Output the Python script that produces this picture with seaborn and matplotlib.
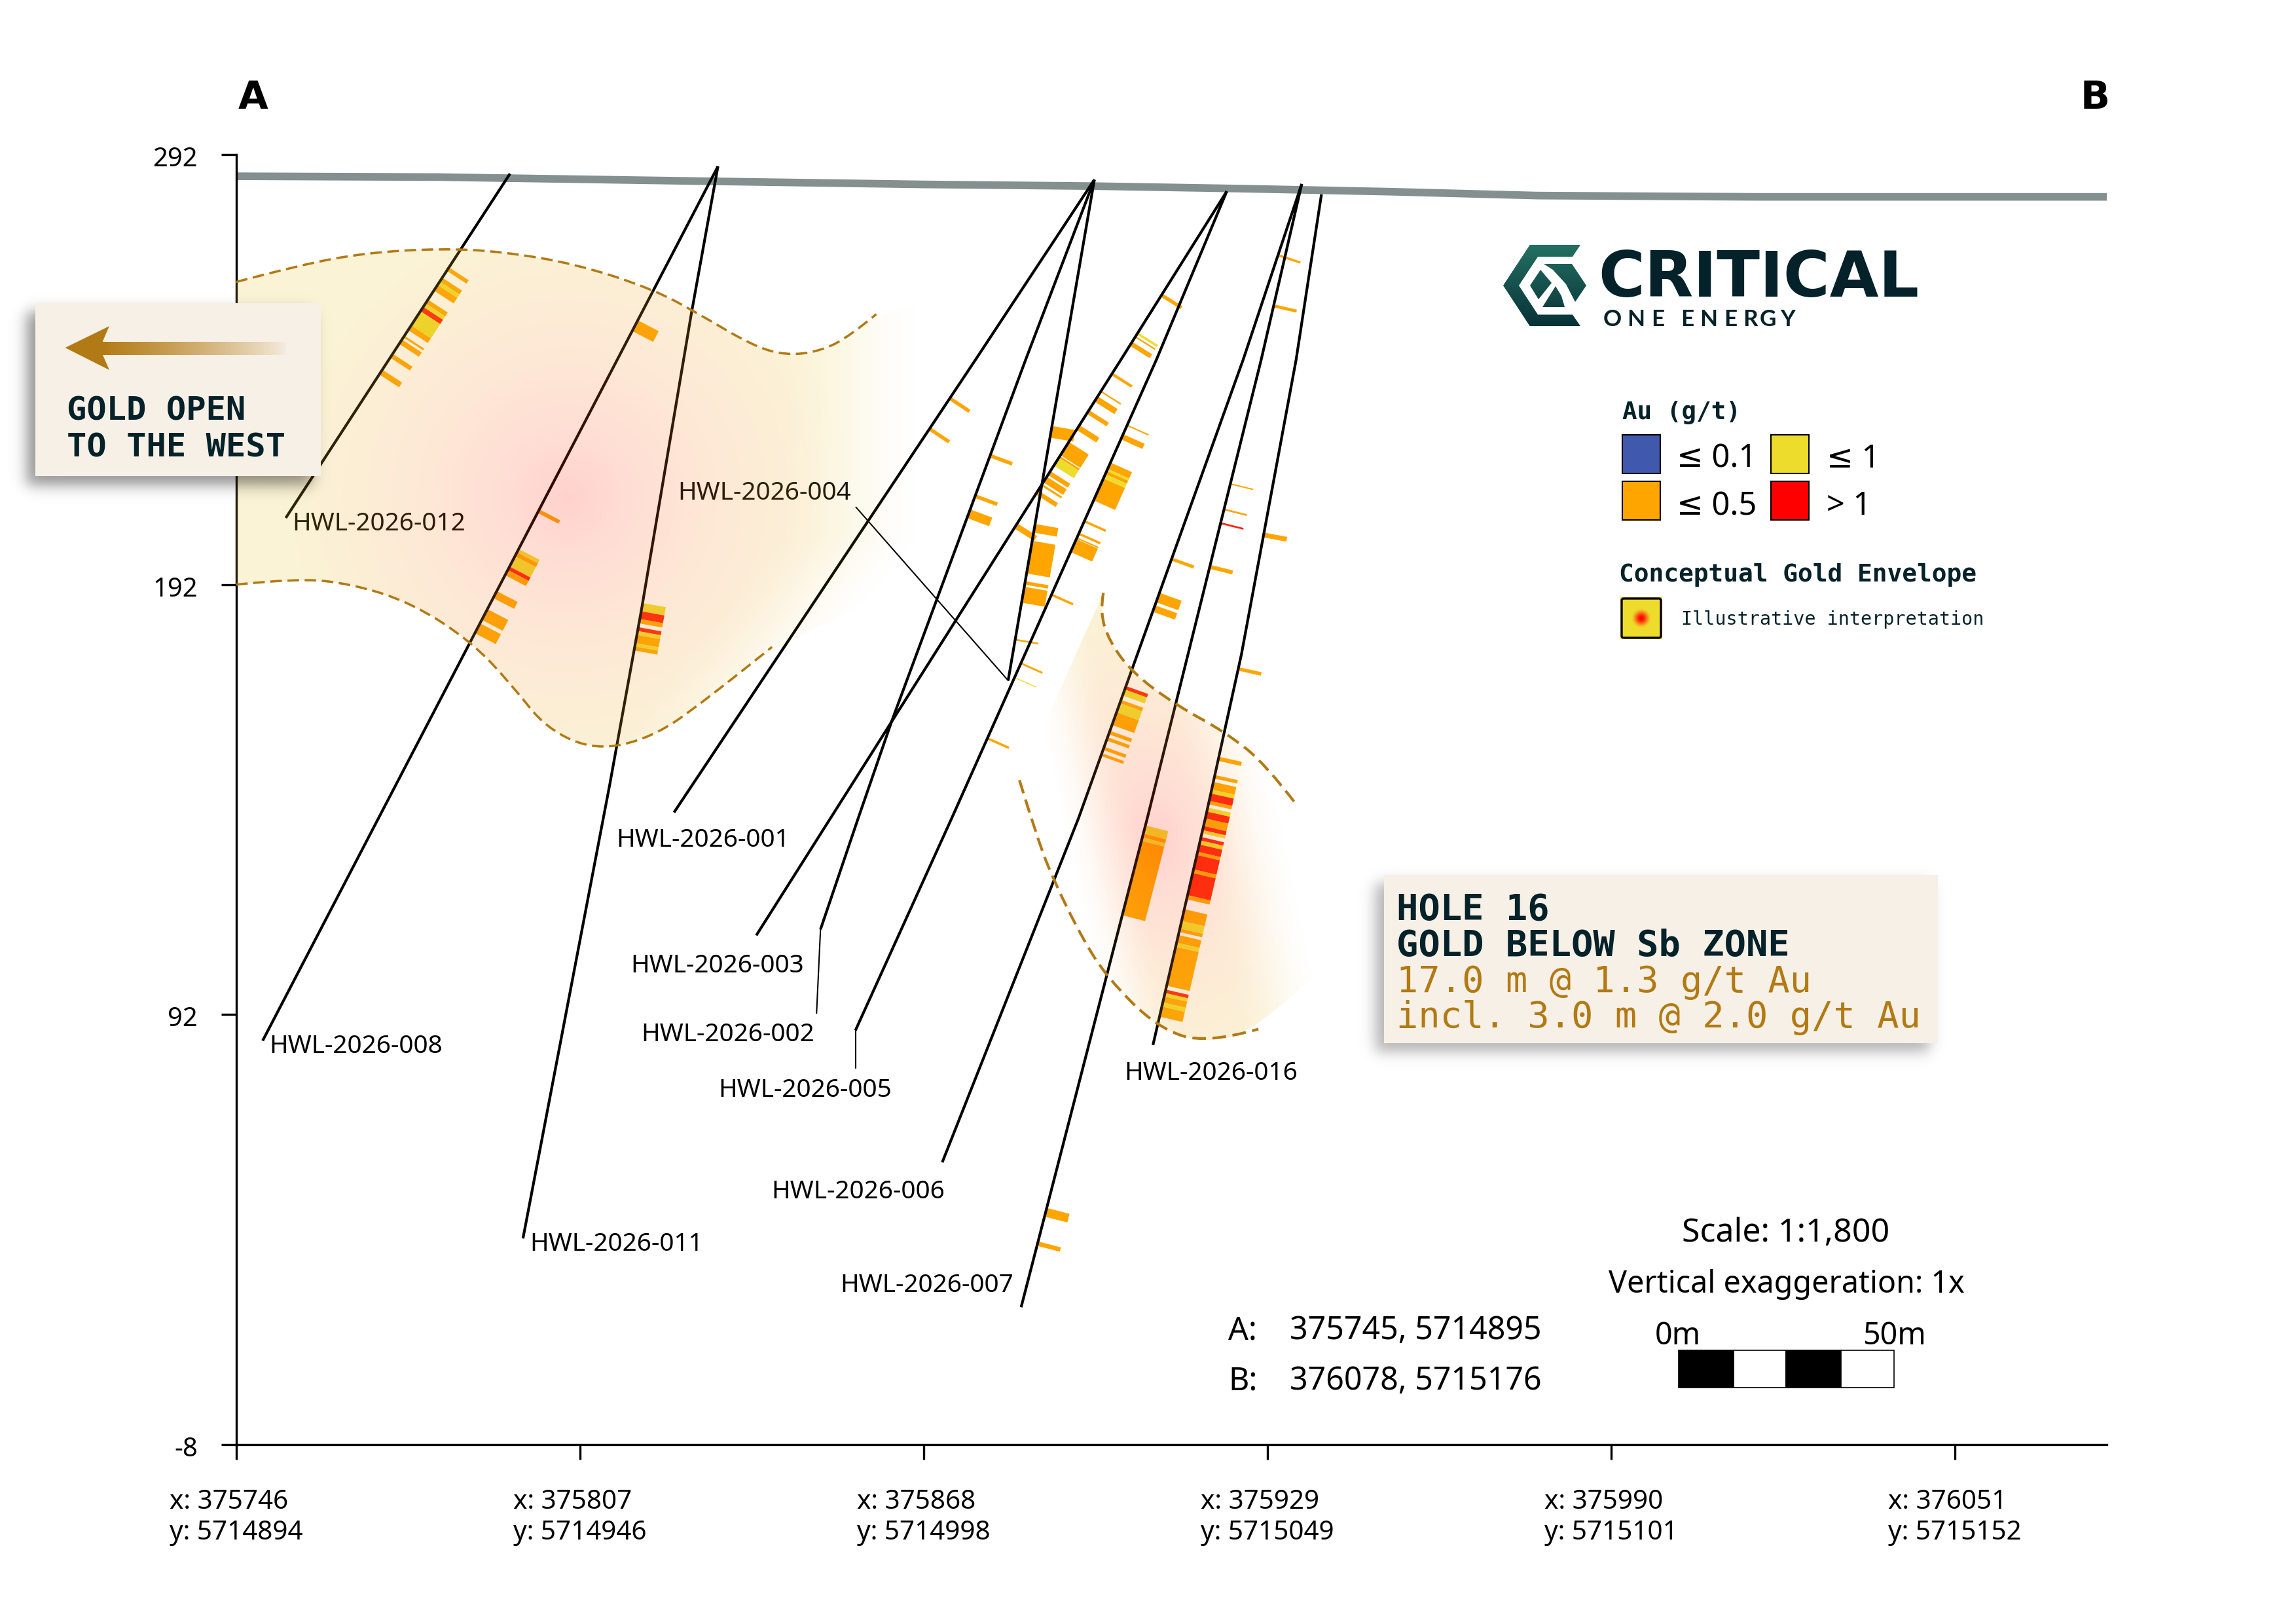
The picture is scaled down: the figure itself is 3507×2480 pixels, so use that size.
import numpy as np
import pandas as pd
import seaborn as sns
import matplotlib
matplotlib.use('Agg')
import matplotlib.pyplot as plt
from matplotlib.path import Path
from matplotlib.patches import PathPatch, Polygon, Rectangle, FancyBboxPatch

# section axes
x_ticks = [375746, 375807, 375868, 375929, 375990, 376051]
x_tick_labels = ['x: 375746\ny: 5714894', 'x: 375807\ny: 5714946', 'x: 375868\ny: 5714998',
                 'x: 375929\ny: 5715049', 'x: 375990\ny: 5715101', 'x: 376051\ny: 5715152']
y_ticks = [292, 192, 92, -8]
y_tick_labels = ['292', '192', '92', '-8']

# topography
ground_e = [375746, 375782.1, 375831.5, 375867.9, 375898.3, 375925.1, 375951, 375977, 376016, 376078]
ground_z = [287.0, 286.8, 285.8, 285.1, 284.7, 284.1, 283.4, 282.5, 282.2, 282.2]

# drill hole traces, collar to toe
hole_e = {
    '012': [375794.6, 375754.8],
    '008': [375831.5, 375750.7],
    '011': [375831.5, 375826.8, 375818, 375812.3, 375796.9],
    '001': [375898.3, 375877.2, 375823.7],
    '002': [375898.3, 375886.1, 375862.3, 375856.4, 375849.7],
    '004': [375898.3, 375892.8, 375883],
    '003': [375921.8, 375903, 375838.3],
    '005': [375921.8, 375909.3, 375873, 375855.9],
    '006': [375935.1, 375924.7, 375895.5, 375871.3],
    '007': [375935.1, 375927.9, 375907.7, 375885.3],
    '016': [375938.6, 375934.1, 375924.4, 375918, 375908.7],
}
hole_z = {
    '012': [287.6, 207.5],
    '008': [289.3, 85.9],
    '011': [289.3, 255.2, 186.7, 145.5, 39.9],
    '001': [286.2, 244.3, 139],
    '002': [286.2, 244.3, 160.1, 137.7, 111.8],
    '004': [286.2, 244.3, 169.7],
    '003': [283.5, 244.3, 110.4],
    '005': [283.5, 244.3, 137.7, 88.3],
    '006': [285.2, 244.3, 137.7, 57.6],
    '007': [285.2, 244.3, 137.7, 23.9],
    '016': [282.8, 244.3, 175.8, 137.7, 84.9],
}

# assay intervals per hole: elevation from, elevation to, grade class
iv_012_from = [265.8, 263.4, 262.5, 261.7, 258.3, 257.4, 256.6, 255.6, 252.3, 249.9, 249.0, 245.7, 242.0]
iv_012_to = [265.0, 262.5, 261.7, 260.4, 257.4, 256.6, 255.6, 252.3, 251.2, 249.5, 248.0, 244.8, 240.9]
iv_012_au = ['O', 'O', 'Y', 'O', 'O', 'Y', 'R', 'Y', 'O', 'O', 'O', 'O', 'O']

iv_008_from = [253.5, 209.5, 200.3, 199.5, 198.6, 196.2, 195.4, 190.5, 186.3, 183.0]
iv_008_to = [251.0, 208.7, 199.5, 198.6, 196.2, 195.4, 194.2, 188.9, 183.8, 180.7]
iv_008_au = ['O', 'O', 'Y', 'O', 'Y', 'R', 'O', 'O', 'O', 'O']

iv_011_from = [187.7, 185.8, 184.0, 182.1, 181.2, 180.3, 178.4, 177.6]
iv_011_to = [185.8, 184.0, 183.0, 181.2, 180.3, 178.4, 177.6, 176.7]
iv_011_au = ['Y', 'R', 'O', 'R', 'Y', 'O', 'Y', 'O']

iv_001_from = [235.7, 228.6]
iv_001_to = [235.0, 227.9]
iv_001_au = ['O', 'O']

iv_002_from = [222.4, 213.0, 209.5]
iv_002_to = [221.6, 212.2, 207.5]
iv_002_au = ['O', 'O', 'O']

iv_004_from = [228.9, 206.1, 202.2, 192.8, 191.5, 179.4]
iv_004_to = [226.2, 204.1, 194.6, 192.0, 187.8, 179.0]
iv_004_au = ['O', 'O', 'O', 'O', 'O', 'O']

iv_003_from = [259.7, 250.65, 249.8, 248.5, 241.3, 237.1, 235.8, 232.6, 229.1, 225.2, 221.9, 221.5,
               218.4, 217.1, 215.4, 213.9, 206.25]
iv_003_to = [259.0, 250.2, 249.5, 247.6, 240.75, 236.8, 234.6, 231.75, 228.0, 222.1, 221.5, 219.7,
             217.5, 215.8, 215.0, 213.0, 205.1]
iv_003_au = ['O', 'Y', 'O', 'O', 'O', 'O', 'O', 'O', 'O', 'O', 'O', 'Y', 'O', 'O', 'O', 'O', 'O']

iv_005_from = [229.2, 227.0, 220.4, 218.9, 218.4, 217.7, 216.7, 207.0, 204.1, 203.0, 202.6, 189.9, 173.9, 170.5, 156.5]
iv_005_to = [228.9, 225.8, 218.9, 218.4, 217.7, 216.7, 211.6, 206.5, 203.6, 202.7, 199.6, 189.4, 173.5, 170.3, 156.0]
iv_005_au = ['O', 'O', 'O', 'Y', 'O', 'Y', 'O', 'O', 'O', 'O', 'O', 'O', 'O', 'Y', 'O']

iv_006_from = [268.9, 198.3, 190.1, 187.2, 168.4, 167.6, 165.2, 164.4, 162.3, 158.0, 156.5, 154.3, 152.8]
iv_006_to = [268.4, 197.6, 187.9, 185.7, 167.6, 166.2, 164.4, 162.3, 159.35, 157.2, 155.75, 153.55, 152.15]
iv_006_au = ['O', 'O', 'O', 'O', 'R', 'Y', 'O', 'Y', 'O', 'O', 'O', 'O', 'O']

iv_007_from = [257.2, 215.6, 209.7, 206.5, 196.6, 136.0, 134.1, 133.2, 132.4, 47.0, 39.2]
iv_007_to = [256.5, 215.3, 209.3, 206.1, 195.7, 134.1, 133.2, 132.4, 115.1, 45.0, 38.2]
iv_007_au = ['O', 'O', 'O', 'R', 'O', 'Y', 'O', 'Y', 'O', 'O', 'O']

iv_016_from = [204.1, 172.8, 151.96, 147.7, 146.1, 144.3, 143.4, 141.7, 140.15, 139.2, 137.6, 135.85, 134.9,
               133.3, 132.5, 131.55, 129.85, 129.1, 125.75, 124.9, 119.75, 116.5, 113.75, 112.0,
               110.5, 108.7, 107.75, 97.8, 97.0, 96.2, 94.8, 93.85]
iv_016_to = [203.0, 172.0, 151.0, 146.9, 144.3, 143.4, 141.7, 140.9, 139.2, 137.6, 135.85, 134.9, 134.15,
             132.5, 131.55, 129.85, 129.1, 125.75, 124.9, 119.75, 118.8, 113.75, 112.0, 111.2,
             108.7, 107.75, 98.7, 97.0, 96.2, 94.8, 93.85, 91.5]
iv_016_au = ['O', 'O', 'O', 'O', 'O', 'Y', 'R', 'O', 'Y', 'R', 'O', 'R', 'Y',
             'R', 'Y', 'R', 'O', 'R', 'O', 'R', 'O', 'O', 'Y', 'O',
             'O', 'Y', 'O', 'R', 'Y', 'O', 'Y', 'O']

intervals = {
    '012': (iv_012_from, iv_012_to, iv_012_au), '008': (iv_008_from, iv_008_to, iv_008_au),
    '011': (iv_011_from, iv_011_to, iv_011_au), '001': (iv_001_from, iv_001_to, iv_001_au),
    '002': (iv_002_from, iv_002_to, iv_002_au), '004': (iv_004_from, iv_004_to, iv_004_au),
    '003': (iv_003_from, iv_003_to, iv_003_au), '005': (iv_005_from, iv_005_to, iv_005_au),
    '006': (iv_006_from, iv_006_to, iv_006_au), '007': (iv_007_from, iv_007_to, iv_007_au),
    '016': (iv_016_from, iv_016_to, iv_016_au),
}

# conceptual gold envelopes
west_top_e = [375746, 375757.4, 375769.1, 375782.4, 375793, 375806.3, 375820.1, 375828.6, 375837.5, 375843.5, 375849.7, 375854.9, 375859.6]
west_top_z = [262.4, 266.4, 269.2, 270.2, 269.5, 266.6, 260.7, 254.6, 247.7, 245.3, 246.3, 249.8, 254.9]
west_bot_e = [375746, 375756.7, 375766.4, 375777.1, 375787.7, 375794.9, 375801.1, 375809.9, 375819.7, 375828.6, 375841.1]
west_bot_z = [192, 193.5, 192.2, 187.8, 178.8, 168.7, 158.4, 153.4, 156.4, 164.3, 177.5]
west_side_e = [375880, 375878]
west_side_z = [262, 200]

east_top_e = [375899.9, 375899.3, 375900.9, 375905.1, 375912.9, 375921.4, 375928.7, 375934.4]
east_top_z = [190.1, 185.7, 178.9, 171.4, 163.9, 157.8, 150.3, 140.4]
east_bot_e = [375885, 375888.2, 375891, 375896, 375900.6, 375909.5, 375918.3, 375927.4]
east_bot_z = [146.5, 132.9, 123.4, 110.1, 100.5, 88.9, 85.2, 88.6]
east_side_e = [375950]
east_side_z = [116.9]

# hole labels in picture pixels
label_names = ['HWL-2026-012', 'HWL-2026-004', 'HWL-2026-008', 'HWL-2026-001', 'HWL-2026-003', 'HWL-2026-002',
               'HWL-2026-005', 'HWL-2026-006', 'HWL-2026-011', 'HWL-2026-007', 'HWL-2026-016']
label_x = [446, 1035, 411, 941, 963, 979, 1097, 1178, 809, 1283, 1717]
label_y = [794, 747, 1592, 1277, 1469, 1574, 1659, 1814, 1894, 1957, 1633]

GRADE = {'O': '#ffa500', 'Y': '#eedc2c', 'R': '#ff2008'}
GOLD = '#b27a14'
INK = '#05222a'
PANEL = '#f7f0e6'
W, H = 3507, 2480

sns.set_theme(style='ticks')
plt.rcParams['font.family'] = ['Noto Sans', 'DejaVu Sans']

fig = plt.figure(figsize=(W / 300, H / 300), dpi=300, facecolor='white')
ax = fig.add_axes([360.7 / W, (H - 2205.7) / H, 2857.6 / W, 1969.4 / H])
ax.set_facecolor('none')
deco = fig.add_axes([0, 0, 1, 1], zorder=10)
deco.axis('off')

xmin, xmax, ymin, ymax = 375746, 376078, -8, 292
sx = 2857.6 / (xmax - xmin)
sy = 1969.4 / (ymax - ymin)

sns.lineplot(x=ground_e, y=ground_z, sort=False, estimator=None, color='#849090', linewidth=2.8,
             solid_capstyle='butt', ax=ax, zorder=2)

for h in hole_e:
    sns.lineplot(x=hole_e[h], y=hole_z[h], sort=False, estimator=None, color='black', linewidth=1.0,
                 solid_capstyle='butt', ax=ax, zorder=3)
    e_rev = np.array(hole_e[h])[::-1]
    z_rev = np.array(hole_z[h])[::-1]
    for top, bot, au in zip(*intervals[h]):
        zmid = (top + bot) / 2
        dx = (np.interp(zmid - 3, z_rev, e_rev) - np.interp(zmid + 3, z_rev, e_rev)) * sx
        dy = 6 * sy
        n = np.hypot(dx, dy)
        off_e = 36 * (dy / n) / sx
        off_z = 36 * (dx / n) / sy
        e1, e2 = np.interp(top, z_rev, e_rev), np.interp(bot, z_rev, e_rev)
        ax.fill([e1, e1 + off_e, e2 + off_e, e2], [top, top + off_z, bot + off_z, bot],
                color=GRADE[au], linewidth=0, zorder=2.5)

# leaders
sns.lineplot(x=[375883, 375856], y=[169.7, 210], sort=False, estimator=None, color='black', linewidth=0.5, ax=ax, zorder=3)
sns.lineplot(x=[375849.7, 375849], y=[111.8, 92.3], sort=False, estimator=None, color='black', linewidth=0.5, ax=ax, zorder=3)
sns.lineplot(x=[375855.9, 375855.9], y=[88.3, 79.5], sort=False, estimator=None, color='black', linewidth=0.5, ax=ax, zorder=3)

for name, lx, ly in zip(label_names, label_x, label_y):
    ax.text(lx, ly + 6, name, transform=deco.transData, fontsize=9.3, color='black', ha='left', va='center', zorder=3)


def smooth_path(xs, ys):
    pts = np.column_stack([xs, ys])
    verts = [pts[0]]
    codes = [Path.MOVETO]
    for i in range(1, len(pts) - 1):
        end = pts[i + 1] if i == len(pts) - 2 else (pts[i] + pts[i + 1]) / 2
        verts += [pts[i], end]
        codes += [Path.CURVE3, Path.CURVE3]
    return Path(verts, codes)


def grid_offsets(cx, cy):
    ee = np.linspace(xmin, xmax, 1100)
    zz = np.linspace(ymin, ymax, 800)
    gx, gz = np.meshgrid(ee, zz)
    return (gx - cx) * sx, (cy - gz) * sy


def ramp(r, stops, colors):
    out = np.zeros(r.shape + (4,))
    for c in range(3):
        out[..., c] = np.interp(r, stops, [col[c] for col in colors]) / 255
    return out


def smooth(v, a, b):
    t = np.clip((v - a) / (b - a), 0, 1)
    return t * t * (3 - 2 * t)


def closed(path):
    return Path(np.vstack([path.vertices, path.vertices[:1]]), list(path.codes) + [Path.LINETO])


RED, HOT, ORANGE, YELLOW = (255, 25, 10), (255, 90, 40), (248, 145, 48), (235, 198, 50)

# west envelope
dx, dz = grid_offsets(375804.6, 212.4)
rgba = ramp(np.hypot(dx, dz), [0, 90, 230, 430], [RED, HOT, ORANGE, YELLOW])
rgba[..., 3] = 0.2 * (1 - smooth(dx + 0.8 * np.maximum(dz - 60, 0), 320, 555))
im = ax.imshow(rgba, extent=[xmin, xmax, ymin, ymax], origin='lower', aspect='auto', zorder=5, interpolation='bilinear')
outline = closed(smooth_path(west_top_e + west_side_e + west_bot_e[::-1], west_top_z + west_side_z + west_bot_z[::-1]))
im.set_clip_path(PathPatch(outline, transform=ax.transData))

# east envelope
dx, dz = grid_offsets(375909.5, 132.9)
along = dx * 0.207 + dz * 0.978
perp = dx * 0.978 - dz * 0.207
rgba = ramp(np.hypot(along * 0.75, perp * 1.2), [0, 60, 150, 280], [RED, HOT, ORANGE, YELLOW])
fade = np.where(perp < 0, smooth(-perp, 30, 145), smooth(perp, 60, 200))
rgba[..., 3] = 0.2 * (1 - fade)
im = ax.imshow(rgba, extent=[xmin, xmax, ymin, ymax], origin='lower', aspect='auto', zorder=5, interpolation='bilinear')
outline = closed(smooth_path(east_top_e + east_side_e + east_bot_e[::-1], east_top_z + east_side_z + east_bot_z[::-1]))
im.set_clip_path(PathPatch(outline, transform=ax.transData))

for xs, ys, w in [(west_top_e, west_top_z, 0.85), (west_bot_e, west_bot_z, 0.85),
                  (east_top_e, east_top_z, 1.0), (east_bot_e, east_bot_z, 1.0)]:
    ax.add_patch(PathPatch(smooth_path(xs, ys), fill=False, edgecolor=GOLD, linewidth=w,
                           linestyle=(0, (5, 2.4)), zorder=6, capstyle='butt'))

ax.set_xlim(xmin, xmax)
ax.set_ylim(ymin, ymax)
sns.despine(ax=ax)
for side in ['left', 'bottom']:
    ax.spines[side].set_linewidth(0.8)
    ax.spines[side].set_color('black')
ax.set_xticks(x_ticks)
ax.set_xticklabels(x_tick_labels, ha='left', fontsize=9.7, color='black', linespacing=1.26)
ax.set_yticks(y_ticks)
ax.set_yticklabels(y_tick_labels, fontsize=9.6, color='black')
ax.tick_params(axis='both', length=5.5, width=0.8, color='black')
ax.tick_params(axis='x', pad=10.8)
ax.tick_params(axis='y', pad=8.6)
shift = matplotlib.transforms.ScaledTranslation(-102 / 300, 0, fig.dpi_scale_trans)
for lab in ax.get_xticklabels():
    lab.set_transform(lab.get_transform() + shift)
shift_y = matplotlib.transforms.ScaledTranslation(0, -3 / 300, fig.dpi_scale_trans)
for lab in ax.get_yticklabels():
    lab.set_transform(lab.get_transform() + shift_y)


# decorations in picture pixels from here on
def panel(x0, y0, x1, y1, off_x=-14, off_y=13, s=13, strength=0.42):
    m = 70
    xx = np.arange(x0 - m, x1 + m, 2.0)
    yy = np.arange(y0 - m, y1 + m, 2.0)
    gx, gy = np.meshgrid(xx, yy)
    fx = 0.5 * (np.tanh((gx - x0 - off_x) / s) - np.tanh((gx - x1 - off_x) / s))
    fy = 0.5 * (np.tanh((gy - y0 - off_y) / s) - np.tanh((gy - y1 - off_y) / s))
    sh = np.zeros(gx.shape + (4,))
    sh[..., 3] = strength * fx * fy
    deco.imshow(sh, extent=[x0 - m, x1 + m, y1 + m, y0 - m], aspect='auto', zorder=1, interpolation='bilinear')
    deco.add_patch(Rectangle((x0, y0), x1 - x0, y1 - y0, facecolor=PANEL, edgecolor='none', zorder=2))


panel(54, 463, 490, 727)
panel(2114, 1336, 2960, 1593, strength=0.3)

deco.add_patch(Polygon([(99.5, 531), (167, 498), (157, 521), (157, 542), (167, 565)], facecolor=GOLD, edgecolor='none', zorder=4))
shaft = np.zeros((1, 256, 4))
shaft[..., 0], shaft[..., 1], shaft[..., 2] = 178 / 255, 122 / 255, 20 / 255
shaft[..., 3] = np.linspace(1, 0, 256) ** 0.8
deco.imshow(shaft, extent=[157, 440, 542, 522], aspect='auto', zorder=3, interpolation='bilinear')

mono = ['DejaVu Sans Mono']
deco.text(102, 627, 'GOLD OPEN', family=mono, weight='bold', fontsize=12.1, color=INK, va='center', zorder=4)
deco.text(102, 683, 'TO THE WEST', family=mono, weight='bold', fontsize=12.1, color=INK, va='center', zorder=4)
deco.text(2133, 1389, 'HOLE 16', family=mono, weight='bold', fontsize=13.3, color=INK, va='center', zorder=4)
deco.text(2133, 1444, 'GOLD BELOW Sb ZONE', family=mono, weight='bold', fontsize=13.3, color=INK, va='center', zorder=4)
deco.text(2133, 1500, '17.0 m @ 1.3 g/t Au', family=mono, fontsize=13.3, color=GOLD, va='center', zorder=4)
deco.text(2133, 1554, 'incl. 3.0 m @ 2.0 g/t Au', family=mono, fontsize=13.3, color=GOLD, va='center', zorder=4)

deco.text(387, 149, 'A', family=['DejaVu Sans'], weight='bold', fontsize=14.2, color='black', ha='center', va='center')
deco.text(3200, 149, 'B', family=['DejaVu Sans'], weight='bold', fontsize=14.2, color='black', ha='center', va='center')

# logo
logo_outer = [(2336.7, 374), (2414, 374), (2402, 392), (2349, 392), (2320, 436), (2349, 480.5), (2402, 480.5), (2414, 498), (2336.7, 498), (2296, 436)]
logo_left = [(2337, 436), (2353, 412), (2370, 432), (2350, 457)]
logo_right = [(2358, 403), (2401, 403), (2423, 436), (2406, 461), (2392, 434), (2372, 412)]
logo_low = [(2356, 469), (2390, 469), (2385, 452), (2376, 437)]
logo_path = Path.make_compound_path(*[Path(p + p[:1], closed=True) for p in [logo_outer, logo_left, logo_right, logo_low]])
grad = np.zeros((128, 1, 3))
for c, (a, b) in enumerate(zip((36, 112, 98), (8, 50, 56))):
    grad[:, 0, c] = np.linspace(a, b, 128) / 255
im = deco.imshow(grad, extent=[2290, 2430, 498, 374], aspect='auto', zorder=2, interpolation='bilinear')
im.set_clip_path(PathPatch(logo_path, transform=deco.transData))
deco.text(2441, 426, 'CRITICAL', family=['DejaVu Sans'], weight='bold', fontsize=23.2, color=INK, ha='left', va='center')
for ch, cx in zip('ONEENERGY', [2463, 2499, 2532, 2577, 2610, 2643, 2673, 2700, 2731]):
    deco.text(cx, 488, ch, family=['Lato'], weight='bold', fontsize=8.4, color=INK, ha='center', va='center')

# grade legend
legend_boxes = [(2478, 664, '#4059ad'), (2705, 664, '#eedc2c'), (2478, 735, '#ffa500'), (2705, 735, '#ff0000')]
for bx, by, col in legend_boxes:
    deco.add_patch(Rectangle((bx, by), 58, 59, facecolor=col, edgecolor='black', linewidth=0.5))
deco.text(2478, 630, 'Au (g/t)', family=mono, weight='bold', fontsize=9, color=INK, va='center')
deco.text(2561, 701, '≤ 0.1', fontsize=11.7, color='black', va='center')
deco.text(2790, 701, '≤ 1', fontsize=11.7, color='black', va='center')
deco.text(2561, 773, '≤ 0.5', fontsize=11.7, color='black', va='center')
deco.text(2790, 773, '> 1', fontsize=11.7, color='black', va='center')
deco.text(2473, 878, 'Conceptual Gold Envelope', family=mono, weight='bold', fontsize=9.1, color=INK, va='center')
deco.text(2568, 946, 'Illustrative interpretation', family=mono, fontsize=6.8, color=INK, va='center')

gx, gy = np.meshgrid(np.linspace(-32, 32, 129), np.linspace(-32, 32, 129))
rr = np.hypot(gx, gy)
swatch = np.zeros(gx.shape + (3,))
for c, (a, b) in enumerate(zip((255, 0, 0), (238, 220, 44))):
    swatch[..., c] = (a + (b - a) * smooth(rr, 0, 16)) / 255
im = deco.imshow(swatch, extent=[2475, 2539, 976, 912], aspect='auto', zorder=2, interpolation='bilinear')
box = FancyBboxPatch((2477, 914), 60, 60, boxstyle='round,pad=0,rounding_size=3', facecolor='none', edgecolor='black', linewidth=0.8, zorder=3)
deco.add_patch(box)

# endpoints
for txt, ty in [('A:', 2032), ('B:', 2109)]:
    deco.text(1876, ty, txt, fontsize=11.6, color='black', va='center')
deco.text(2355, 2032, '375745, 5714895', fontsize=11.6, color='black', ha='right', va='center')
deco.text(2355, 2109, '376078, 5715176', fontsize=11.6, color='black', ha='right', va='center')

# scale
deco.text(2728, 1883, 'Scale: 1:1,800', fontsize=12, color='black', ha='center', va='center')
deco.text(2729, 1961, 'Vertical exaggeration: 1x', fontsize=11.2, color='black', ha='center', va='center')
deco.text(2563, 2040, '0m', fontsize=11.2, color='black', ha='center', va='center')
deco.text(2894, 2040, '50m', fontsize=11.2, color='black', ha='center', va='center')
scale_edges = [2564, 2648, 2728, 2812, 2893]
for i in range(4):
    deco.add_patch(Rectangle((scale_edges[i], 2062), scale_edges[i + 1] - scale_edges[i], 57,
                             facecolor='black' if i % 2 == 0 else 'white', edgecolor='black', linewidth=0.4))

deco.set_xlim(0, W)
deco.set_ylim(H, 0)

fig.savefig('out.png', dpi=300)
